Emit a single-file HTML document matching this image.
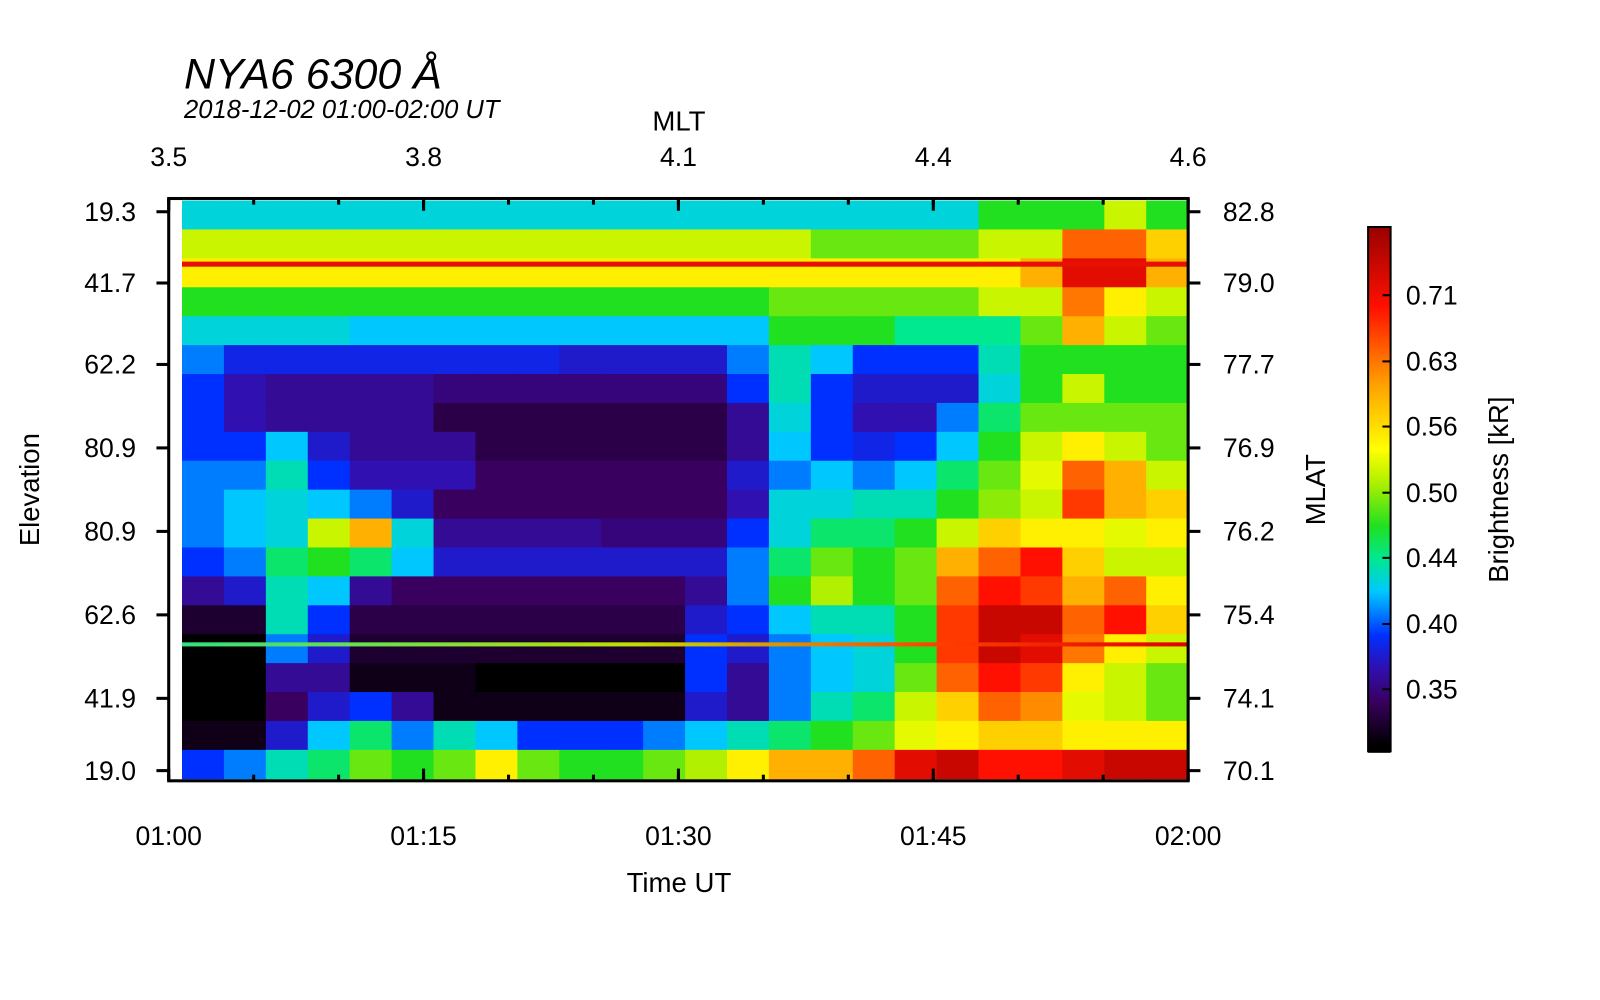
<!DOCTYPE html>
<html><head><meta charset="utf-8"><style>
html,body{margin:0;padding:0;background:#fff;}
svg{display:block;font-family:"Liberation Sans",sans-serif;}
</style></head><body>
<svg id="chart" width="1600" height="1000" viewBox="0 0 1600 1000" xmlns="http://www.w3.org/2000/svg">
<g transform="scale(1.0225,1.018)">
<text x="180" y="87" font-size="42" font-style="italic">NYA6 6300 Å</text>
<text x="180" y="116" font-size="25" font-style="italic">2018-12-02 01:00-02:00 UT</text>
<g id="heat"></g>
<g id="axes"></g>
<g id="cbar"></g>
</g>
</svg>
<script>
const NS="http://www.w3.org/2000/svg";
const bottomTicks=["01:00","01:15","01:30","01:45","02:00"];
const topTicks=["3.5","3.8","4.1","4.4","4.6"];
const leftTicks=["19.3","41.7","62.2","80.9","80.9","62.6","41.9","19.0"];
const rightTicks=["82.8","79.0","77.7","76.9","76.2","75.4","74.1","70.1"];
const cbarTicks=[0.35,0.40,0.44,0.50,0.56,0.63,0.71];
const cbarTickLabels=["0.35","0.40","0.44","0.50","0.56","0.63","0.71"];
const grid=[
[0.45,0.45,0.45,0.45,0.45,0.45,0.45,0.45,0.45,0.45,0.45,0.45,0.45,0.45,0.45,0.45,0.45,0.45,0.45,0.5,0.5,0.5,0.55,0.5],
[0.55,0.55,0.55,0.55,0.55,0.55,0.55,0.55,0.55,0.55,0.55,0.55,0.55,0.55,0.55,0.52,0.52,0.52,0.52,0.55,0.55,0.66,0.66,0.6],
[0.58,0.58,0.58,0.58,0.58,0.58,0.58,0.58,0.58,0.58,0.58,0.58,0.58,0.58,0.58,0.58,0.58,0.58,0.58,0.58,0.62,0.72,0.72,0.62],
[0.5,0.5,0.5,0.5,0.5,0.5,0.5,0.5,0.5,0.5,0.5,0.5,0.5,0.5,0.52,0.52,0.52,0.52,0.52,0.55,0.55,0.65,0.58,0.55],
[0.45,0.45,0.45,0.45,0.44,0.44,0.44,0.44,0.44,0.44,0.44,0.44,0.44,0.44,0.5,0.5,0.5,0.47,0.47,0.47,0.52,0.62,0.55,0.52],
[0.42,0.39,0.39,0.39,0.39,0.39,0.39,0.39,0.39,0.38,0.38,0.38,0.38,0.42,0.46,0.44,0.4,0.4,0.4,0.46,0.5,0.5,0.5,0.5],
[0.4,0.37,0.36,0.36,0.36,0.36,0.35,0.35,0.35,0.35,0.35,0.35,0.35,0.4,0.46,0.4,0.38,0.38,0.38,0.45,0.5,0.55,0.5,0.5],
[0.4,0.37,0.36,0.36,0.36,0.36,0.33,0.33,0.33,0.33,0.33,0.33,0.33,0.36,0.45,0.4,0.37,0.37,0.42,0.48,0.52,0.52,0.52,0.52],
[0.4,0.4,0.44,0.38,0.36,0.36,0.36,0.33,0.33,0.33,0.33,0.33,0.33,0.36,0.44,0.4,0.39,0.4,0.44,0.5,0.55,0.58,0.55,0.52],
[0.42,0.42,0.46,0.4,0.37,0.37,0.37,0.34,0.34,0.34,0.34,0.34,0.34,0.38,0.42,0.44,0.42,0.44,0.48,0.52,0.56,0.66,0.62,0.55],
[0.42,0.44,0.45,0.44,0.42,0.38,0.34,0.34,0.34,0.34,0.34,0.34,0.34,0.37,0.45,0.45,0.46,0.46,0.5,0.53,0.55,0.68,0.62,0.6],
[0.42,0.44,0.45,0.55,0.62,0.45,0.36,0.36,0.36,0.36,0.35,0.35,0.35,0.4,0.45,0.48,0.48,0.5,0.55,0.6,0.58,0.58,0.56,0.58],
[0.4,0.42,0.48,0.5,0.48,0.44,0.38,0.38,0.38,0.38,0.38,0.38,0.38,0.42,0.48,0.52,0.5,0.52,0.62,0.66,0.7,0.6,0.55,0.55],
[0.36,0.38,0.46,0.44,0.36,0.34,0.34,0.34,0.34,0.34,0.34,0.34,0.36,0.42,0.5,0.54,0.5,0.52,0.66,0.7,0.68,0.62,0.66,0.58],
[0.32,0.32,0.46,0.4,0.33,0.33,0.33,0.33,0.33,0.33,0.33,0.33,0.38,0.4,0.44,0.46,0.46,0.5,0.68,0.74,0.74,0.66,0.7,0.6],
[0.3,0.3,0.42,0.38,0.32,0.32,0.32,0.32,0.32,0.32,0.32,0.32,0.4,0.38,0.42,0.44,0.45,0.5,0.68,0.74,0.72,0.65,0.58,0.55],
[0.3,0.3,0.36,0.36,0.31,0.31,0.31,0.3,0.3,0.3,0.3,0.3,0.4,0.36,0.42,0.44,0.45,0.52,0.66,0.7,0.68,0.58,0.55,0.52],
[0.3,0.3,0.34,0.38,0.4,0.36,0.31,0.31,0.31,0.31,0.31,0.31,0.38,0.36,0.42,0.46,0.48,0.55,0.6,0.66,0.64,0.56,0.55,0.52],
[0.31,0.31,0.38,0.44,0.48,0.42,0.46,0.44,0.4,0.4,0.4,0.42,0.44,0.46,0.48,0.5,0.52,0.56,0.58,0.6,0.6,0.58,0.58,0.58],
[0.4,0.42,0.46,0.48,0.52,0.5,0.52,0.58,0.52,0.5,0.5,0.52,0.54,0.58,0.62,0.62,0.66,0.72,0.74,0.7,0.7,0.72,0.74,0.74]
];
const stops=[[0.30,[0,0,0]],[0.34,[58,0,96]],[0.37,[48,16,176]],[0.40,[0,48,255]],[0.44,[0,200,255]],[0.47,[0,232,144]],[0.50,[32,224,32]],[0.54,[176,240,0]],[0.57,[255,255,0]],[0.63,[255,160,0]],[0.70,[255,16,0]],[0.78,[144,0,0]]];
function color(v){
  if(v<=stops[0][0])return"rgb(0,0,0)";
  for(let i=1;i<stops.length;i++){if(v<=stops[i][0]){const a=stops[i-1],b=stops[i],t=(v-a[0])/(b[0]-a[0]);
    return"rgb("+a[1].map((c,k)=>Math.round(c+(b[1][k]-c)*t)).join(",")+")";}}
  return"rgb(144,0,0)";
}
function el(tag,attrs,parent){const e=document.createElementNS(NS,tag);for(const k in attrs)e.setAttribute(k,attrs[k]);parent.appendChild(e);return e;}
const X0=165,X1=1162,Y0=195,Y1=767,IX0=178,IY0=197,IY1=765;
const nr=grid.length,nc=grid[0].length;
const xCell=c=>IX0+(X1-IX0)*c/nc, yCell=r=>IY0+(IY1-IY0)*r/nr;
const heat=document.getElementById('heat');
for(let r=0;r<nr;r++)for(let c=0;c<nc;c++){
  const e=el('rect',{x:xCell(c),y:yCell(r),width:xCell(c+1)-xCell(c)+0.5,height:yCell(r+1)-yCell(r)+0.5,fill:color(grid[r][c])},heat);
  
  
}
const defs=el('defs',{},heat);
const lg=el('linearGradient',{id:'lg2',x1:'0',x2:'1',y1:'0',y2:'0'},defs);
el('stop',{offset:'0','stop-color':'#30e080'},lg);el('stop',{offset:'0.45','stop-color':'#c0e000'},lg);el('stop',{offset:'0.75','stop-color':'#ff4000'},lg);el('stop',{offset:'1','stop-color':'#e00000'},lg);
let ln=el('rect',{x:IX0,y:257,width:X1-IX0,height:5,fill:'#e81000'},heat);


ln=el('rect',{x:IX0,y:631,width:X1-IX0,height:4,fill:'url(#lg2)'},heat);


const ax=document.getElementById('axes');
el('rect',{x:X0,y:Y0,width:X1-X0,height:Y1-Y0,fill:'none',stroke:'#000','stroke-width':3},ax);
const xt=i=>X0+(X1-X0)*i/(bottomTicks.length-1);
for(let i=0;i<bottomTicks.length;i++){
  const x=xt(i);
  el('line',{x1:x,x2:x,y1:Y1,y2:Y1-12,stroke:'#000','stroke-width':3},ax);
  el('line',{x1:x,x2:x,y1:Y0,y2:Y0+12,stroke:'#000','stroke-width':3},ax);
  let t=el('text',{x:x,y:830,'font-size':26,'text-anchor':'middle'},ax);t.textContent=bottomTicks[i];
  
  
  t=el('text',{x:x,y:163,'font-size':26,'text-anchor':'middle'},ax);t.textContent=topTicks[i];
  
  
}
for(let m=0;m<=12;m++){const x=X0+(X1-X0)*m/12;
  el('line',{x1:x,x2:x,y1:Y1,y2:Y1-6,stroke:'#000','stroke-width':3},ax);
  el('line',{x1:x,x2:x,y1:Y0,y2:Y0+6,stroke:'#000','stroke-width':3},ax);}
const yPos=[208,278,358,440,522,604,686,757];
for(let i=0;i<leftTicks.length;i++){
  const y=yPos[i];
  el('line',{x1:X0-12,x2:X0,y1:y,y2:y,stroke:'#000','stroke-width':3},ax);
  el('line',{x1:X1,x2:X1+12,y1:y,y2:y,stroke:'#000','stroke-width':3},ax);
  let t=el('text',{x:133,y:y+9,'font-size':26,'text-anchor':'end'},ax);t.textContent=leftTicks[i];
  
  
  t=el('text',{x:1196,y:y+9,'font-size':26},ax);t.textContent=rightTicks[i];
  
  
}
function lab(txt,x,y,rot,name){const t=el('text',{x:x,y:y,'font-size':27,'text-anchor':'middle',transform:rot?`rotate(-90 ${x} ${y})`:''},ax);t.textContent=txt;}
lab("Time UT",664,876,false,'x-axis-title');
lab("MLT",664,128,false,'top-axis-title');
lab("Elevation",38,481,true,'y-axis-title');
lab("MLAT",1296,481,true,'right-axis-title');
const cb=document.getElementById('cbar');
const CB0=223,CB1=738;
for(let y=CB0;y<CB1;y+=2){const v=0.35+(677-y)/1075;el('rect',{x:1338,y:y,width:22,height:2.5,fill:color(v)},cb);}
el('rect',{x:1338,y:CB0,width:22,height:CB1-CB0,fill:'none',stroke:'#000','stroke-width':2},cb);
const cbLabY=[677,613,548,484,419,355,290];
for(let i=0;i<cbarTicks.length;i++){
  const y=cbLabY[i];
  el('line',{x1:1352,x2:1360,y1:y,y2:y,stroke:'#000','stroke-width':2},cb);
  const t=el('text',{x:1375,y:y+9,'font-size':26},cb);t.textContent=cbarTickLabels[i];
  
  
}
const ct=el('text',{x:1475,y:481,'font-size':27,'text-anchor':'middle',transform:'rotate(-90 1475 481)'},cb);ct.textContent="Brightness [kR]";


</script>
</body></html>
